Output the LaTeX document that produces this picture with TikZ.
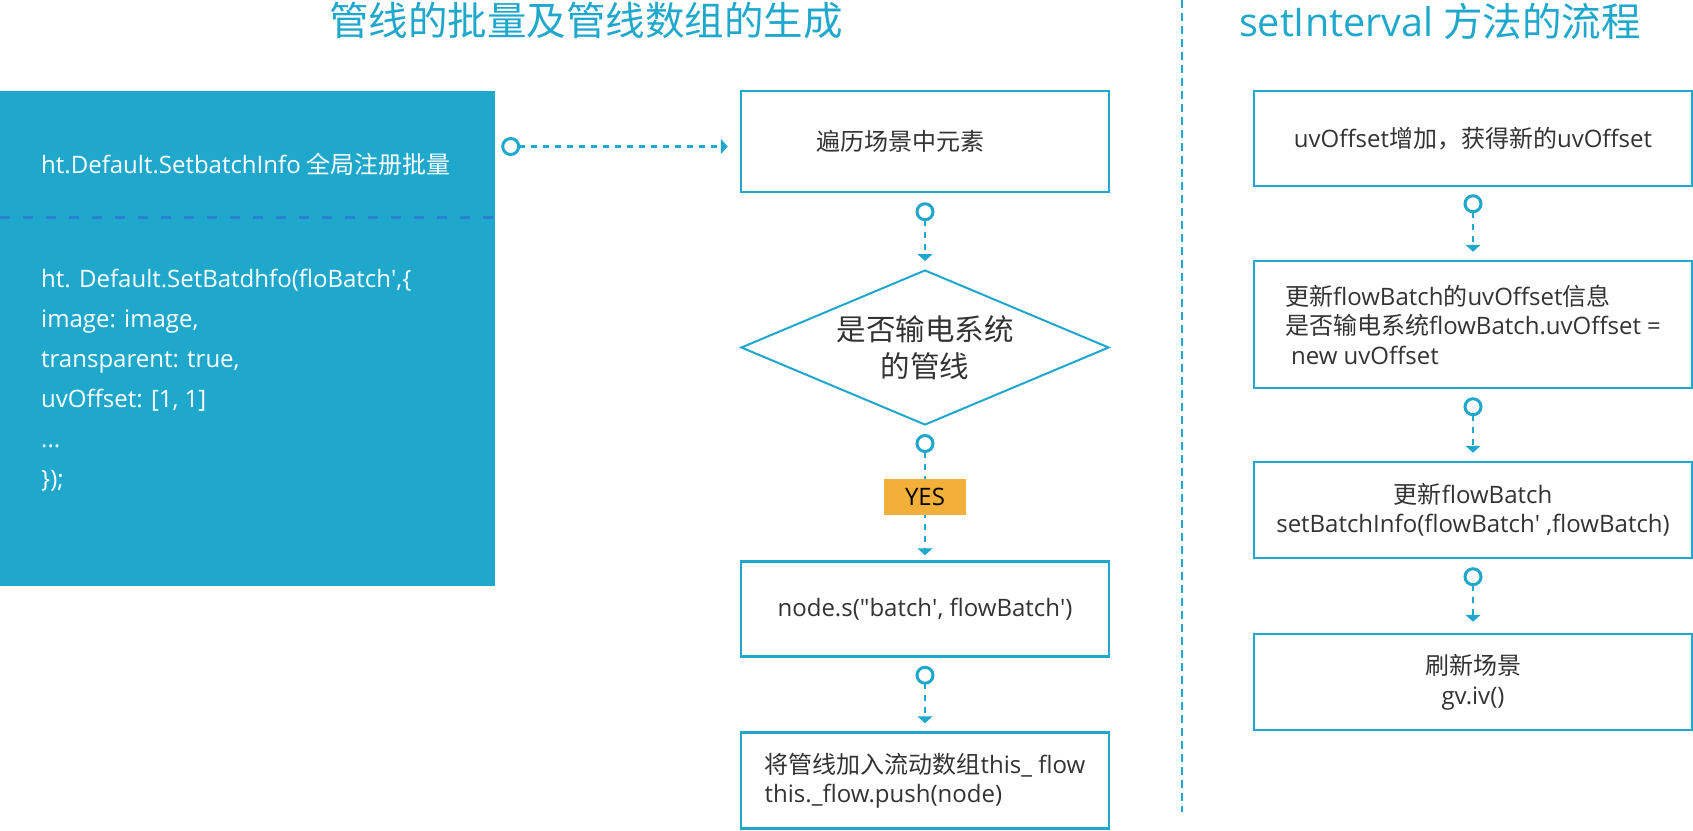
\documentclass[tikz,border=0pt]{standalone}
\usepackage{fontspec}
\setmainfont{Open Sans}
\newfontfamily\cjkfont{Noto Sans CJK SC}
\usepackage{tikz}
\usetikzlibrary{arrows.meta,calc,shapes.geometric}
\usepackage{xcolor}
\definecolor{htcyan}{HTML}{1FA8CC}
\definecolor{htpanel}{HTML}{20A8CC}
\definecolor{htsep}{HTML}{2B80D6}
\definecolor{htyes}{HTML}{F2B03A}
\definecolor{httext}{HTML}{333333}
\newcommand{\zh}[1]{{\cjkfont #1}}
\newcommand{\sq}{\textquotesingle}
\newcommand{\dq}{\textquotedbl}

\begin{document}
\begin{tikzpicture}[x=1pt,y=-1pt,
  title/.style={text=htcyan, inner sep=0pt, font=\fontsize{39.5}{44}\selectfont},
  panel/.style={fill=htpanel, inner sep=0pt, minimum width=495pt, minimum height=495pt},
  paneltext/.style={text=white, inner sep=0pt, anchor=west, align=left},
  panelsep/.style={htsep, line width=3pt, dash pattern=on 10pt off 13pt},
  stepbox/.style={draw=htcyan, line width=2.5pt, inner sep=0pt, text=httext,
    font=\fontsize{24}{29.5}\selectfont},
  midbox/.style={stepbox, minimum width=368pt},
  rightbox/.style={stepbox, minimum width=438pt},
  decision/.style={diamond, draw=htcyan, line width=2pt, aspect=2.37, inner sep=0pt,
    minimum width=368pt, minimum height=155pt, align=center, text=httext,
    font=\fontsize{29.5}{37}\selectfont},
  yesbox/.style={fill=htyes, text=black, inner sep=0pt, minimum width=82pt,
    minimum height=36pt, font=\fontsize{24}{29}\selectfont},
  flow/.style={htcyan, line width=2.5pt, dash pattern=on 6pt off 6pt,
    {Circle[open,length=19pt,line width=3pt]}-{Triangle[length=7pt,width=15pt]},
    shorten <=8pt, shorten >=8pt},
  divider/.style={htcyan, line width=2pt, dash pattern=on 8pt off 5pt}]
  \useasboundingbox (0,0) rectangle (1693,830);
  % Titles and divider
  \node[title] (titleL) at (586,21) {\zh{管线的批量及管线数组的生成}};
  \node[title] (titleR) at (1440,21) {setInterval \zh{方法的流程}};
  \coordinate (divtop) at (1182,0);
  \coordinate (divbot) at (1182,812);
  \draw[divider] (divtop) -- (divbot);
  % Left panel: batch registration
  \node[panel] (cfg) at (247.5,338.5) {};
  \coordinate (sepL) at (0,217);
  \coordinate (sepR) at (495,217);
  \draw[panelsep] (sepL) -- (sepR);
  \node[paneltext, font=\fontsize{24}{29.5}\selectfont] (reg) at (41,164)
    {ht.Default.SetbatchInfo \zh{全局注册批量}};
  \node[paneltext, font=\fontsize{24}{40}\selectfont] (code) at (41,380)
    {ht. Default.SetBatdhfo(floBatch\sq,\{\\
     image: image,\\
     transparent: true,\\
     uvOffset: [1, 1]\\
     ...\\
     \});};
  % Middle column: building the flow array
  \node[midbox, minimum height=101pt] (scan) at (925,141.5) {\zh{遍历场景中元素}\kern50pt};
  \node[decision] (ispower) at (925,347.5) {\zh{是否输电系统}\\\zh{的管线}};
  \node[midbox, minimum height=95pt] (setbatch) at (925,609)
    {node.s(\dq batch\sq, flowBatch\sq)};
  \node[midbox, minimum height=96pt, align=left] (pushflow) at (925,780.5)
    {\zh{将管线加入流动数组}this\_ flow\\this.\_flow.push(node)};
  \draw[flow, shorten <=6pt, shorten >=12pt] ($(cfg.east |- scan.west)+(0,5)$) -- ($(scan.west)+(0,5)$);
  \draw[flow, shorten <=9pt] (scan) -- (ispower);
  \draw[flow, shorten >=5pt] (ispower) -- node[yesbox, pos=0.53] (yes) {YES} (setbatch);
  \draw[flow] (setbatch) -- (pushflow);
  % Right column: setInterval loop
  \node[rightbox, minimum height=95pt] (uvinc) at (1473,138.5)
    {uvOffset\zh{增加，获得新的}uvOffset};
  \node[rightbox, minimum height=127pt, align=left] (uvset) at (1473,324.5)
    {\zh{更新}flowBatch\zh{的}uvOffset\zh{信息}\\
     \zh{是否输电系统}flowBatch.uvOffset =\\
     \hspace*{6pt}new uvOffset};
  \node[rightbox, minimum height=96pt, align=center] (batchinfo) at (1473,510)
    {\zh{更新}flowBatch\\setBatchInfo(flowBatch\sq\ ,flowBatch)};
  \node[rightbox, minimum height=96pt, align=center] (refresh) at (1473,682)
    {\zh{刷新场景}\\gv.iv()};
  \draw[flow, shorten <=7pt] (uvinc) -- (uvset);
  \draw[flow] (uvset) -- (batchinfo);
  \draw[flow, shorten >=11pt] (batchinfo) -- (refresh);
\end{tikzpicture}
\end{document}
